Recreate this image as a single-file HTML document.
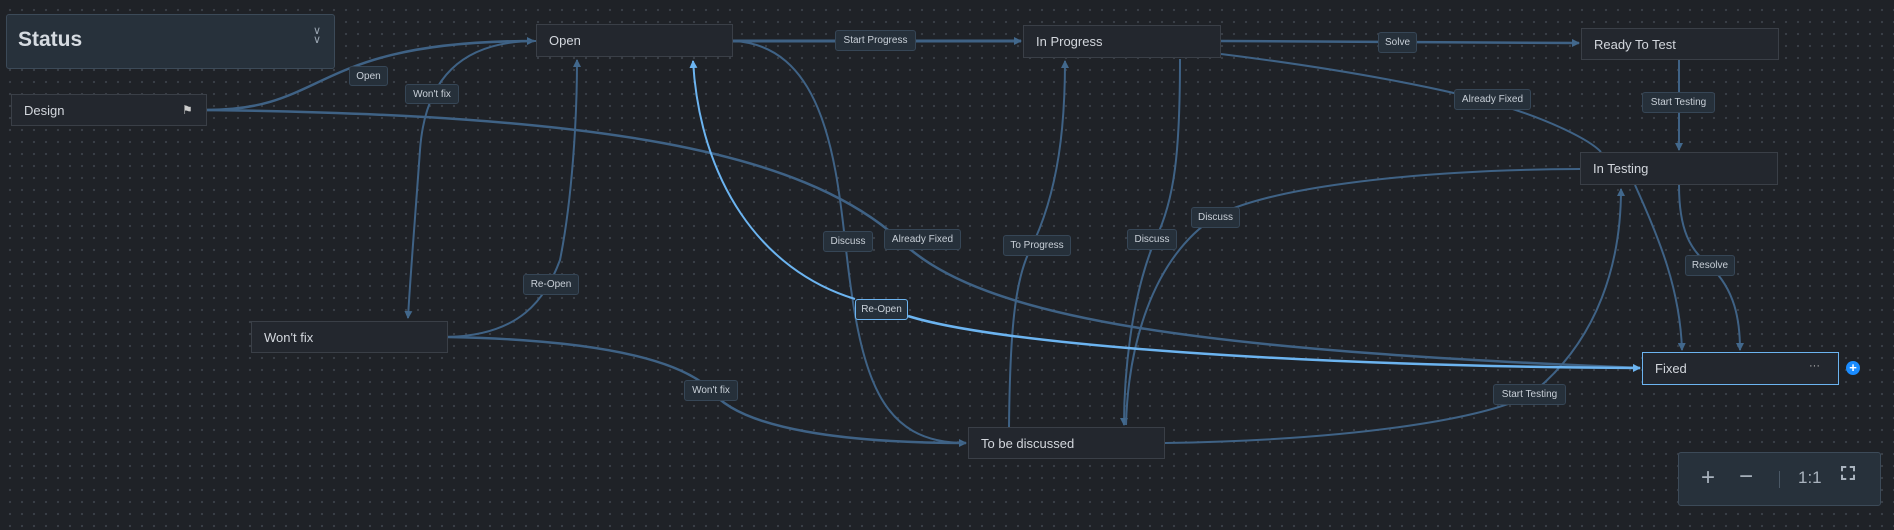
<!DOCTYPE html>
<html><head><meta charset="utf-8"><style>
html,body{margin:0;padding:0;}
body{width:1894px;height:530px;overflow:hidden;background:#1f2227;position:relative;font-family:"Liberation Sans",sans-serif;
background-image:radial-gradient(circle,#3a3f47 1px,transparent 1.3px);background-size:12px 12px;background-position:4px 4px;}
.node{position:absolute;box-sizing:border-box;background:#23272e;border:1px solid #3a3f47;color:#d3d7dd;font-size:13px;padding-left:12px;display:flex;align-items:center;}
.lbl{position:absolute;box-sizing:border-box;background:#26303a;border:1px solid #364656;border-radius:3px;color:#c9d0d8;font-size:10px;display:flex;align-items:center;justify-content:center;}
svg{position:absolute;left:0;top:0;}
</style></head><body>
<svg width="1894" height="530" viewBox="0 0 1894 530">
<defs>
<marker id="a" markerWidth="8" markerHeight="8" refX="7" refY="4" orient="auto" markerUnits="userSpaceOnUse"><path d="M0,0 L8,4 L0,8 Z" fill="#42688c"/></marker>
<marker id="b" markerWidth="8" markerHeight="8" refX="7" refY="4" orient="auto" markerUnits="userSpaceOnUse"><path d="M0,0 L8,4 L0,8 Z" fill="#6cb4f0"/></marker>
</defs>
<g fill="none" stroke="#3f6285" stroke-width="2">
<path d="M207,110 C330,110 310,41 534,41" stroke-width="2.5" marker-end="url(#a)"/>
<path d="M207,110 C600,115 800,150 900,240 C980,320 1200,350 1640,368" stroke-width="2.5"/>
<path d="M536,41 C460,41 425,80 420,150 C415,220 410,280 408,318" marker-end="url(#a)"/>
<path d="M448,337 C520,335 545,300 560,260 C572,200 577,120 577,60" marker-end="url(#a)"/>
<path d="M448,337 C600,340 680,360 711,390 C740,430 850,443 966,443" stroke-width="2.5" marker-end="url(#a)"/>
<path d="M733,41 C820,45 835,150 845,240 C860,380 880,443 966,443"/>
<path d="M733,41 L1021,41" stroke-width="3" marker-end="url(#a)"/>
<path d="M1009,427 C1010,330 1015,280 1030,250 C1060,190 1065,120 1065,61" marker-end="url(#a)"/>
<path d="M1180,59 C1180,150 1175,200 1155,240 C1130,300 1124,380 1124,425" marker-end="url(#a)"/>
<path d="M1580,169 C1400,170 1260,190 1215,217 C1150,260 1128,350 1126,425"/>
<path d="M1221,41 L1579,43" stroke-width="2.5" marker-end="url(#a)"/>
<path d="M1221,54 C1350,70 1450,90 1500,105 C1550,120 1590,140 1601,152"/>
<path d="M1679,60 L1679,150" marker-end="url(#a)"/>
<path d="M1635,185 C1660,240 1680,290 1682,350" marker-end="url(#a)"/>
<path d="M1679,185 C1679,230 1690,250 1710,266 C1735,290 1740,320 1740,350" marker-end="url(#a)"/>
<path d="M1165,443 C1350,440 1480,420 1530,395 C1600,340 1621,260 1621,189" marker-end="url(#a)"/>
</g>
<g fill="none" stroke="#6cb4f0" stroke-width="2">
<path d="M908,316 C1000,345 1300,366 1640,368" stroke-width="2.5" marker-end="url(#b)"/>
<path d="M855,299 C760,270 700,180 693,61" marker-end="url(#b)"/>
</g>
</svg>
<div style="position:absolute;left:6px;top:14px;width:329px;height:55px;box-sizing:border-box;background:#27313b;border:1px solid #3c4a58;border-radius:3px;">
<div style="position:absolute;left:11px;top:13px;color:#d6dbe1;font-size:21px;font-weight:bold;">Status</div>
<div style="position:absolute;left:306px;top:12px;color:#9aa5b1;font-size:11px;line-height:9px;">&#8744;<br>&#8744;</div>
</div>
<div class="node" style="left:11px;top:94px;width:196px;height:32px;">Design<span style="position:absolute;left:170px;top:8px;font-size:12px;color:#ccc;">&#9873;</span></div>
<div class="node" style="left:536px;top:24px;width:197px;height:33px;">Open</div>
<div class="node" style="left:251px;top:321px;width:197px;height:32px;">Won't fix</div>
<div class="node" style="left:1023px;top:25px;width:198px;height:33px;">In Progress</div>
<div class="node" style="left:1581px;top:28px;width:198px;height:32px;">Ready To Test</div>
<div class="node" style="left:1580px;top:152px;width:198px;height:33px;">In Testing</div>
<div class="node" style="left:968px;top:427px;width:197px;height:32px;">To be discussed</div>
<div class="node" style="left:1642px;top:352px;width:197px;height:33px;border-color:#6cb4f0;">Fixed<span style="position:absolute;left:166px;top:7px;font-size:11px;color:#bbb;">···</span></div>
<div style="position:absolute;left:1846px;top:361px;width:14px;height:14px;border-radius:50%;background:#1a8cff;color:#fff;font-size:13px;line-height:14px;text-align:center;font-weight:bold;">+</div>
<div class="lbl" style="left:349px;top:66px;width:39px;height:20px;">Open</div>
<div class="lbl" style="left:405px;top:84px;width:54px;height:20px;">Won't fix</div>
<div class="lbl" style="left:523px;top:274px;width:56px;height:21px;">Re-Open</div>
<div class="lbl" style="left:823px;top:231px;width:50px;height:21px;">Discuss</div>
<div class="lbl" style="left:884px;top:229px;width:77px;height:21px;">Already Fixed</div>
<div class="lbl" style="left:855px;top:299px;width:53px;height:21px;border-color:#6cb4f0;">Re-Open</div>
<div class="lbl" style="left:684px;top:380px;width:54px;height:21px;">Won't fix</div>
<div class="lbl" style="left:835px;top:30px;width:81px;height:21px;">Start Progress</div>
<div class="lbl" style="left:1378px;top:32px;width:39px;height:21px;">Solve</div>
<div class="lbl" style="left:1454px;top:89px;width:77px;height:21px;">Already Fixed</div>
<div class="lbl" style="left:1642px;top:92px;width:73px;height:21px;">Start Testing</div>
<div class="lbl" style="left:1191px;top:207px;width:49px;height:21px;">Discuss</div>
<div class="lbl" style="left:1003px;top:235px;width:68px;height:21px;">To Progress</div>
<div class="lbl" style="left:1127px;top:229px;width:50px;height:21px;">Discuss</div>
<div class="lbl" style="left:1685px;top:255px;width:50px;height:21px;">Resolve</div>
<div class="lbl" style="left:1493px;top:384px;width:73px;height:21px;">Start Testing</div>
<div style="position:absolute;left:1678px;top:452px;width:203px;height:54px;box-sizing:border-box;background:#27313b;border:1px solid #3c4a58;border-radius:3px;color:#a9b3be;">
<div style="position:absolute;left:22px;top:11px;font-size:24px;">+</div>
<div style="position:absolute;left:60px;top:10px;font-size:24px;">&#8722;</div>
<div style="position:absolute;left:100px;top:18px;width:1px;height:17px;background:#4a5866;"></div>
<div style="position:absolute;left:119px;top:15px;font-size:17px;">1:1</div>
<div style="position:absolute;left:162px;top:13px;width:14px;height:14px;border:2px dashed #a9b3be;box-sizing:border-box;"></div>
</div>
</body></html>
